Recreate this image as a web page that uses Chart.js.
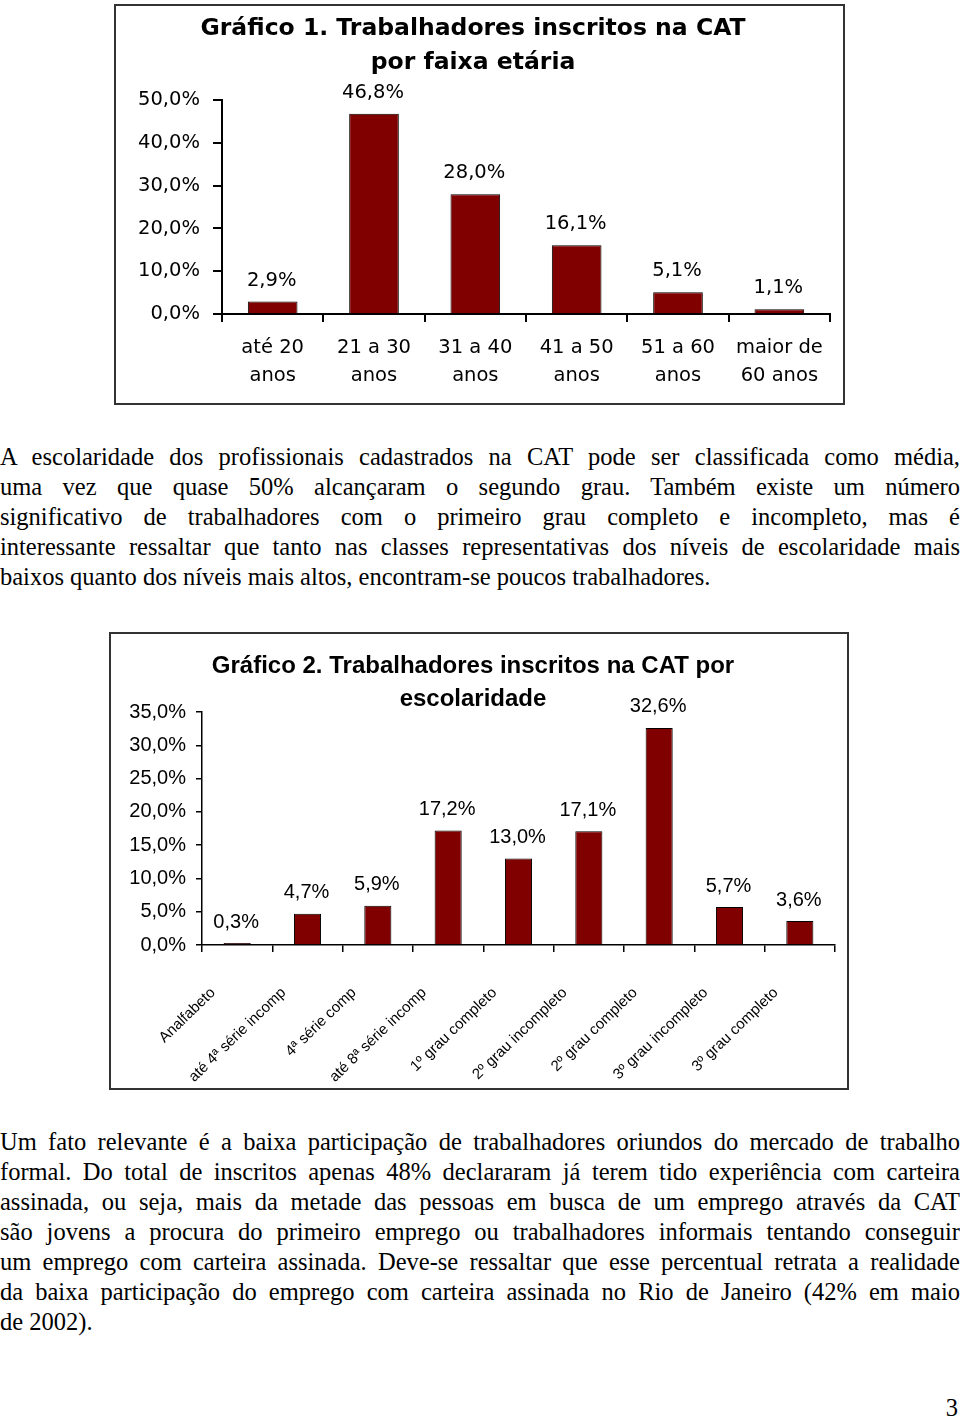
<!DOCTYPE html>
<html lang="pt-BR">
<head>
<meta charset="utf-8">
<title>Trabalhadores inscritos na CAT</title>
<script src="https://cdn.jsdelivr.net/npm/chart.js@4.4.1/dist/chart.umd.min.js"></script>
<style>
  html, body { margin: 0; padding: 0; background: #fff; }
  body {
    width: 960px; height: 1421px; position: relative; overflow: hidden;
    font-family: 'Liberation Serif', 'Times New Roman', serif; color: #000;
  }
  .box { position: absolute; border: 2px solid #333; box-sizing: border-box; background: #fff; }
  .box canvas { display: block; }
  .para { position: absolute; left: 0; width: 960px; font-size: 24.5px; line-height: 30px; }
  .para .j { text-align: justify; text-align-last: justify; }
  .pagenum { position: absolute; right: 2px; top: 1393px; font-size: 24.5px; line-height: 30px; }
</style>
</head>
<body>

<div class="box" style="left:114px; top:4px; width:731px; height:401px;">
  <canvas id="ageChart" width="727" height="397"></canvas>
</div>

<div class="para" style="top:442px;">
  <div class="j">A escolaridade dos profissionais cadastrados na CAT pode ser classificada como média,</div>
  <div class="j">uma vez que quase 50% alcançaram o segundo grau. Também existe um número</div>
  <div class="j">significativo de trabalhadores com o primeiro grau completo e incompleto, mas é</div>
  <div class="j">interessante ressaltar que tanto nas classes representativas dos níveis de escolaridade mais</div>
  <div>baixos quanto dos níveis mais altos, encontram-se poucos trabalhadores.</div>
</div>

<div class="box" style="left:109px; top:632px; width:740px; height:458px;">
  <canvas id="schoolChart" width="736" height="454"></canvas>
</div>

<div class="para" style="top:1127px;">
  <div class="j">Um fato relevante é a baixa participação de trabalhadores oriundos do mercado de trabalho</div>
  <div class="j">formal. Do total de inscritos apenas 48% declararam já terem tido experiência com carteira</div>
  <div class="j">assinada, ou seja, mais da metade das pessoas em busca de um emprego através da CAT</div>
  <div class="j">são jovens a procura do primeiro emprego ou trabalhadores informais tentando conseguir</div>
  <div class="j">um emprego com carteira assinada. Deve-se ressaltar que esse percentual retrata a realidade</div>
  <div class="j">da baixa participação do emprego com carteira assinada no Rio de Janeiro (42% em maio</div>
  <div>de 2002).</div>
</div>

<div class="pagenum">3</div>

<script>
// Gráfico 1 - faixa etária
const ageLabels = [
  ['até 20', 'anos'], ['21 a 30', 'anos'], ['31 a 40', 'anos'],
  ['41 a 50', 'anos'], ['51 a 60', 'anos'], ['maior de', '60 anos']
];
const ageValues = [2.9, 46.8, 28.0, 16.1, 5.1, 1.1];
const ageTitle = ['Gráfico 1. Trabalhadores inscritos na CAT', 'por faixa etária'];
const ageAxis = { min: 0, max: 50, step: 10 };

// Gráfico 2 - escolaridade
const schoolLabels = [
  'Analfabeto', 'até 4ª série incomp', '4ª série comp', 'até 8ª série incomp',
  '1º grau completo', '2º grau incompleto', '2º grau completo',
  '3º grau incompleto', '3º grau completo'
];
const schoolValues = [0.3, 4.7, 5.9, 17.2, 13.0, 17.1, 32.6, 5.7, 3.6];
const schoolTitle = ['Gráfico 2. Trabalhadores inscritos na CAT por', 'escolaridade'];
const schoolAxis = { min: 0, max: 35, step: 5 };

const barColor = '#800000';

// 46.8 -> "46,8%"
function pct(v) {
  return Number(v).toFixed(1).replace('.', ',') + '%';
}

// rótulos de valor acima das barras
const valueLabels = {
  id: 'valueLabels',
  afterDatasetsDraw(chart, args, opts) {
    const ctx = chart.ctx;
    const meta = chart.getDatasetMeta(0);
    const data = chart.data.datasets[0].data;
    ctx.save();
    ctx.font = opts.font;
    ctx.fillStyle = '#000';
    ctx.textAlign = 'center';
    ctx.textBaseline = 'middle';
    meta.data.forEach((bar, i) => {
      ctx.fillText(pct(data[i]), bar.x + opts.dx, bar.y - opts.offset);
    });
    ctx.restore();
  }
};

Chart.register(valueLabels);

const sans1 = 'DejaVu Sans';
const sans2 = 'Liberation Sans';

new Chart(document.getElementById('ageChart'), {
  type: 'bar',
  data: {
    labels: ageLabels,
    datasets: [{
      data: ageValues,
      backgroundColor: barColor,
      borderColor: '#000',
      borderWidth: 1,
      barPercentage: 0.49,
      categoryPercentage: 1
    }]
  },
  options: {
    responsive: false,
    animation: false,
    layout: { padding: { left: 0, right: 13, top: 0, bottom: 0 } },
    plugins: {
      legend: { display: false },
      tooltip: { enabled: false },
      title: {
        display: true,
        text: ageTitle,
        color: '#000',
        font: { family: sans1, size: 23.5, weight: 'bold', lineHeight: 1.45 },
        padding: { top: 6, bottom: 20 }
      },
      valueLabels: { font: '19.5px "DejaVu Sans"', offset: 21, dx: -1 }
    },
    scales: {
      y: {
        min: ageAxis.min,
        max: ageAxis.max,
        ticks: {
          stepSize: ageAxis.step,
          callback: v => pct(v),
          color: '#000',
          font: { family: sans1, size: 19.5 },
          padding: 13
        },
        grid: { drawOnChartArea: false, tickLength: 9, color: '#000', lineWidth: 2 },
        border: { color: '#000', width: 2 },
        afterFit(scale) { scale.width = 106; }
      },
      x: {
        ticks: {
          color: '#000',
          font: { family: sans1, size: 19.5, lineHeight: 1.44 },
          maxRotation: 0,
          autoSkip: false,
          padding: 12
        },
        grid: { drawOnChartArea: false, offset: true, tickLength: 8, color: '#000', lineWidth: 2 },
        border: { color: '#000', width: 2 },
        afterFit(scale) { scale.height = 89; }
      }
    }
  }
});

new Chart(document.getElementById('schoolChart'), {
  type: 'bar',
  data: {
    labels: schoolLabels,
    datasets: [{
      data: schoolValues,
      backgroundColor: barColor,
      borderColor: '#000',
      borderWidth: 1,
      barPercentage: 0.385,
      categoryPercentage: 1
    }]
  },
  options: {
    responsive: false,
    animation: false,
    layout: { padding: { left: 0, right: 12, top: 0, bottom: 0 } },
    plugins: {
      legend: { display: false },
      tooltip: { enabled: false },
      title: {
        display: true,
        text: schoolTitle,
        color: '#000',
        font: { family: sans2, size: 24, weight: 'bold', lineHeight: 1.375 },
        padding: { top: 15.5, bottom: -3.5 }
      },
      valueLabels: { font: '20px "Liberation Sans"', offset: 21, dx: -1 }
    },
    scales: {
      y: {
        min: schoolAxis.min,
        max: schoolAxis.max,
        ticks: {
          stepSize: schoolAxis.step,
          callback: v => pct(v),
          color: '#000',
          font: { family: sans2, size: 20 },
          padding: 10
        },
        grid: { drawOnChartArea: false, tickLength: 6, color: '#000', lineWidth: 1.5 },
        border: { color: '#000', width: 1.5 },
        afterFit(scale) { scale.width = 91; }
      },
      x: {
        ticks: {
          color: '#000',
          font: { family: sans2, size: 15 },
          minRotation: 44,
          maxRotation: 44,
          autoSkip: false,
          labelOffset: -24,
          padding: 32
        },
        grid: { drawOnChartArea: false, offset: true, tickLength: 7, color: '#000', lineWidth: 1.5 },
        border: { color: '#000', width: 1.5 },
        afterFit(scale) { scale.height = 143; }
      }
    }
  }
});
</script>
</body>
</html>
